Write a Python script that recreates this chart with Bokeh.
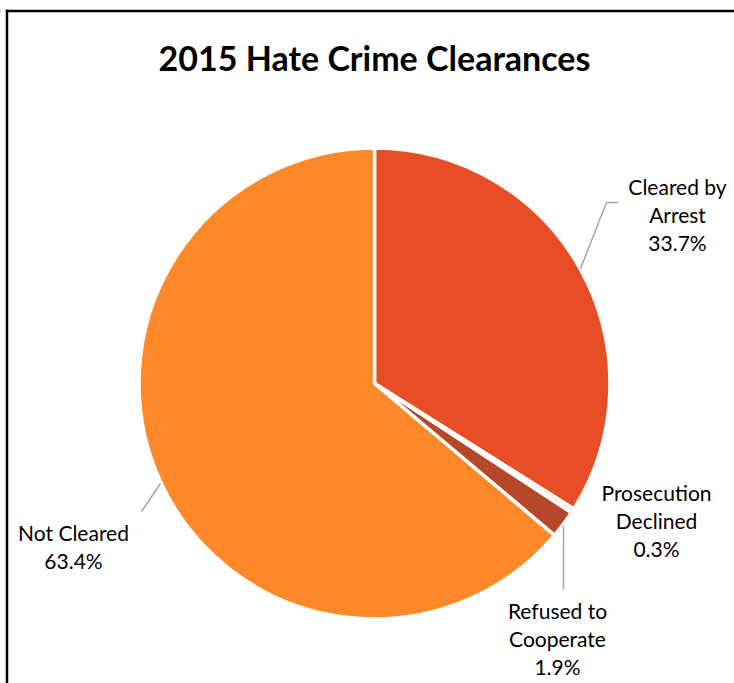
import math
from bokeh.plotting import figure
from bokeh.models import Range1d, ColumnDataSource, Span, BoxAnnotation
from bokeh.core.properties import value
from bokeh.embed import file_html
from bokeh.resources import INLINE

# ---- data ----
title_text = "2015 Hate Crime Clearances"
categories = ["Cleared by Arrest", "Prosecution Declined", "Refused to Cooperate", "Not Cleared"]
percents = [33.7, 0.3, 1.9, 63.4]
label_lines = [["Cleared by", "Arrest"], ["Prosecution", "Declined"], ["Refused to", "Cooperate"], ["Not Cleared"]]
colors = ["#E84E25", "#F7CF96", "#B44828", "#FF8928"]

# ---- layout (screenshot pixel coordinates) ----
W, H = 734, 683
def Y(py):
    return H - py

cx, cy, R = 374, 383, 235.5
label_pos = [(677, 186), (656, 492), (557, 610), (73, 532)]
line_step = 28
leaders = [
    [(580, 268), (606, 202), (618, 202)],
    None,
    [(563, 525), (563, 589)],
    [(160, 483), (141, 511)],
]
FONT = "Lato"

p = figure(width=W, height=H, output_backend="svg", toolbar_location=None,
           x_range=Range1d(0, W), y_range=Range1d(0, H),
           min_border=0, outline_line_color=None, border_fill_alpha=0)
p.axis.visible = False
p.grid.visible = False
p.background_fill_color = "white"

# border (top and left edges visible)
p.add_layout(Span(location=Y(10.5), dimension="width", line_color="black", line_width=2.5))
p.add_layout(BoxAnnotation(left=None, right=5.25, bottom=Y(14), top=None,
                           fill_color="white", fill_alpha=1, line_color=None))
p.add_layout(BoxAnnotation(left=5.25, right=7.75, bottom=None, top=Y(9.25),
                           fill_color="black", fill_alpha=1, line_color=None))

# wedges
total = sum(percents)
starts, ends = [], []
cum = 0.0
for v in percents:
    starts.append(math.pi / 2 - cum / total * 2 * math.pi)
    cum += v
    ends.append(math.pi / 2 - cum / total * 2 * math.pi)
src = ColumnDataSource(dict(x=[cx] * len(percents), y=[Y(cy)] * len(percents),
                            start=starts, end=ends, color=colors, cat=categories))
p.wedge(x="x", y="y", radius=R, start_angle="start", end_angle="end", direction="clock",
        fill_color="color", line_color="white", line_width=3.5, source=src)

# leader lines
for ld in leaders:
    if ld:
        p.line([q[0] for q in ld], [Y(q[1]) for q in ld], line_color="#A6A6A6", line_width=1.5)

# labels
for lines, pct, (lx, ly) in zip(label_lines, percents, label_pos):
    all_lines = lines + [f"{pct:.1f}%"]
    p.text(x=[lx] * len(all_lines), y=[Y(ly + i * line_step) for i in range(len(all_lines))],
           text=all_lines, text_align="center", text_baseline="middle",
           text_font=value(FONT), text_font_size="21px", text_color="#000000")

# title
p.text(x=[374], y=[Y(57)], text=[title_text], text_align="center", text_baseline="middle",
       text_font=value(FONT), text_font_style="bold", text_font_size="34px", text_color="#000000")

open("out.html", "w").write(file_html(p, INLINE))
